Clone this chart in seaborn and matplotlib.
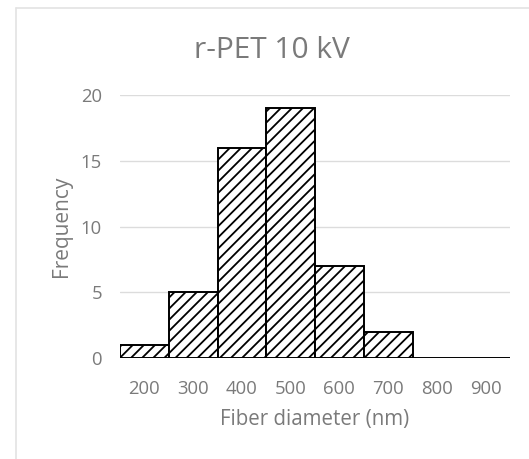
import matplotlib
matplotlib.use("Agg")
import matplotlib.pyplot as plt
import seaborn as sns
import pandas as pd
from matplotlib.lines import Line2D

categories = ["200", "300", "400", "500", "600", "700", "800", "900"]
frequency = [1, 5, 16, 19, 7, 2, 0, 0]
title_text = "r-PET 10 kV"
xlabel_text = "Fiber diameter (nm)"
ylabel_text = "Frequency"
yticks = [0, 5, 10, 15, 20]

sns.set_theme(style="white")
plt.rcParams['font.family'] = ['Open Sans', 'DejaVu Sans']
plt.rcParams['hatch.linewidth'] = 1.3
plt.rcParams['hatch.color'] = 'black'

TXT = "#7a7a7a"
W, H = 529, 459
fig = plt.figure(figsize=(W / 100, H / 100), dpi=100)
fig.patch.set_facecolor("white")
ax = fig.add_axes([120 / W, 1 - 358 / H, 390 / W, (358 - 95) / H])

df = pd.DataFrame({"cat": categories, "freq": frequency})
sns.barplot(data=df, x="cat", y="freq", order=categories, width=1.0,
            color="white", edgecolor="black", linewidth=1.4, hatch="///",
            saturation=1, ax=ax, zorder=3)
for p in ax.patches:
    p.set_facecolor("white")
    p.set_hatch("///")

ax.set_ylim(0, 20)
ax.set_xlim(-0.5, len(categories) - 0.5)
ax.set_yticks(yticks)
ax.yaxis.grid(True, color="#dcdcdc", linewidth=1.0, zorder=0)
ax.xaxis.grid(False)
ax.set_axisbelow(True)
for s in ax.spines.values():
    s.set_visible(False)
ax.tick_params(axis="both", length=0, labelsize=13.3, colors=TXT)
ax.tick_params(axis="y", pad=13)
ax.tick_params(axis="x", pad=16)

ax.set_xlabel(xlabel_text, fontsize=14.8, color=TXT)
ax.set_ylabel(ylabel_text, fontsize=15, color=TXT)
ax.xaxis.label.set_va("center")
ax.yaxis.label.set_va("center")
ax.xaxis.set_label_coords(0.5, -(420 - 358) / 263)
ax.yaxis.set_label_coords(-(120 - 62) / 390, 0.5)

fig.text(272 / W, 1 - 50 / H, title_text, ha="center", va="center",
         fontsize=21.5, color=TXT)

# light chart-area border (top and left visible)
fig.add_artist(Line2D([16 / W, 1], [1 - 8 / H, 1 - 8 / H], color="#e3e3e3", lw=1.2,
                      transform=fig.transFigure))
fig.add_artist(Line2D([16 / W, 16 / W], [0, 1 - 8 / H], color="#e3e3e3", lw=1.2,
                      transform=fig.transFigure))

fig.savefig("out.png", dpi=100, facecolor="white")
